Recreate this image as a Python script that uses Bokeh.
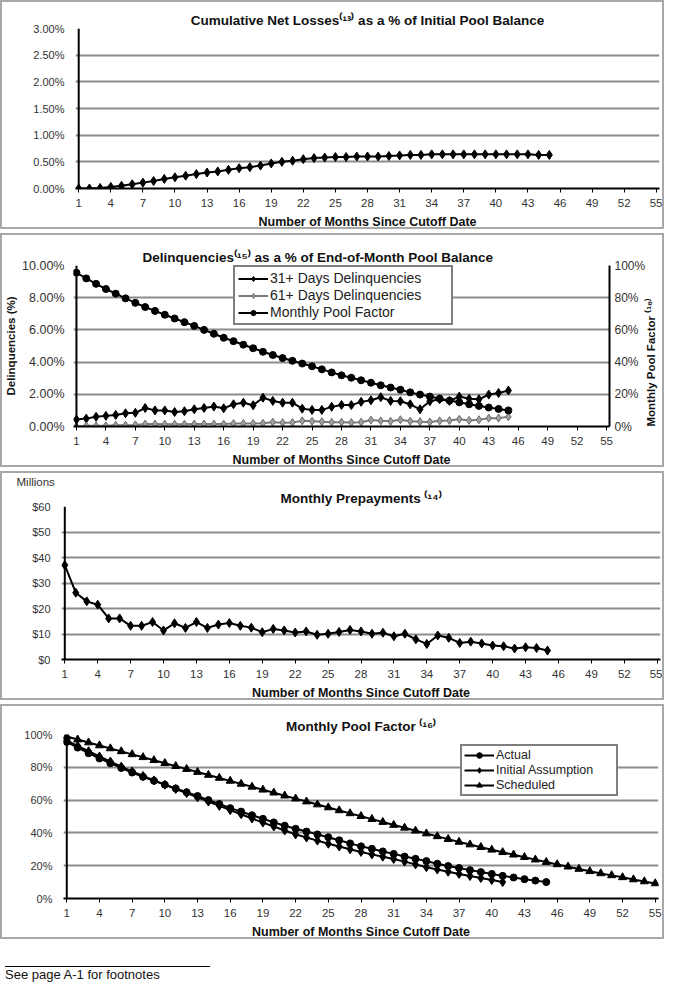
import math
from bokeh.plotting import figure
from bokeh.models import (Range1d, LinearAxis, FixedTicker, PrintfTickFormatter, Span,
                          Legend, LegendItem, Div, Title)
from bokeh.layouts import column
from bokeh.embed import file_html
from bokeh.resources import INLINE

FONT = "Liberation Sans"

# ---------------- data ----------------
months45 = list(range(1, 46))
months41 = list(range(1, 42))
months55 = list(range(1, 56))
x_ticks = list(range(1, 56, 3))

cum_net_losses = [0.00, 0.00, 0.01, 0.03, 0.05, 0.08, 0.11, 0.14, 0.18, 0.21,
                  0.24, 0.27, 0.30, 0.32, 0.35, 0.38, 0.40, 0.43, 0.47, 0.50,
                  0.52, 0.55, 0.57, 0.58, 0.59, 0.59, 0.60, 0.60, 0.60, 0.61,
                  0.62, 0.63, 0.63, 0.64, 0.64, 0.64, 0.64, 0.64, 0.64, 0.64,
                  0.64, 0.64, 0.64, 0.63, 0.63]
loss_ticks = [0.0, 0.5, 1.0, 1.5, 2.0, 2.5, 3.0]

delinq_31 = [0.43, 0.49, 0.60, 0.66, 0.72, 0.82, 0.85, 1.15, 1.00, 1.00,
             0.90, 0.95, 1.07, 1.15, 1.24, 1.13, 1.38, 1.48, 1.32, 1.79,
             1.59, 1.48, 1.48, 1.11, 1.03, 1.03, 1.22, 1.34, 1.33, 1.53,
             1.63, 1.82, 1.59, 1.57, 1.38, 1.07, 1.57, 1.69, 1.59, 1.86,
             1.72, 1.69, 1.98, 2.08, 2.23]
delinq_61 = [0.00, 0.04, 0.04, 0.04, 0.08, 0.08, 0.10, 0.15, 0.15, 0.14,
             0.14, 0.14, 0.15, 0.15, 0.15, 0.15, 0.18, 0.19, 0.19, 0.20,
             0.27, 0.24, 0.25, 0.35, 0.33, 0.30, 0.27, 0.27, 0.25, 0.27,
             0.40, 0.35, 0.32, 0.42, 0.33, 0.30, 0.28, 0.35, 0.37, 0.45,
             0.38, 0.42, 0.52, 0.52, 0.60]
delinq_ticks = [0, 2, 4, 6, 8, 10]

pool_factor = [95.5, 92.0, 88.6, 85.4, 82.5, 79.6, 76.8, 74.2, 71.8, 69.4,
               67.1, 64.8, 62.5, 60.0, 57.6, 55.1, 53.0, 50.8, 48.6, 46.4,
               44.4, 42.5, 40.8, 39.1, 37.4, 35.5, 33.6, 31.8, 30.3, 28.7,
               27.2, 25.6, 24.2, 22.8, 21.2, 19.8, 18.6, 17.3, 16.1, 15.0,
               13.8, 12.8, 11.8, 10.9, 10.0]
pct_ticks = [0, 20, 40, 60, 80, 100]

prepayments = [37.0, 26.2, 22.8, 21.5, 16.1, 16.1, 13.2, 13.2, 14.7, 11.4,
               14.2, 12.4, 14.7, 12.4, 13.7, 14.3, 13.2, 12.5, 10.7, 12.0,
               11.4, 10.6, 11.0, 9.7, 10.1, 10.8, 11.6, 11.0, 10.1, 10.5,
               9.1, 10.1, 7.9, 6.1, 9.4, 8.5, 6.5, 7.0, 6.3, 5.5,
               5.2, 4.3, 4.8, 4.5, 3.5]
prepay_ticks = [0, 10, 20, 30, 40, 50, 60]

initial_assumption = [96.3, 93.0, 89.8, 86.6, 83.5, 80.4, 77.5, 74.7, 72.0, 69.4,
                      66.8, 64.3, 61.7, 59.1, 56.5, 53.9, 51.4, 48.8, 46.3, 43.9,
                      41.5, 39.1, 37.2, 35.3, 33.4, 31.7, 30.0, 28.4, 26.9, 25.5,
                      24.1, 22.5, 20.8, 19.1, 17.7, 16.3, 15.0, 13.7, 12.5, 11.3,
                      10.0]
scheduled = [98.8, 96.9, 95.1, 93.3, 91.5, 89.7, 87.9, 86.1, 84.3, 82.5,
             80.7, 78.9, 77.1, 75.3, 73.5, 71.7, 69.9, 68.1, 66.3, 64.5,
             62.7, 60.9, 59.1, 57.3, 55.5, 53.7, 51.9, 50.2, 48.4, 46.6,
             44.8, 43.1, 41.3, 39.6, 37.9, 36.2, 34.5, 32.9, 31.3, 29.7,
             28.2, 26.7, 25.2, 23.7, 22.2, 20.8, 19.4, 18.0, 16.6, 15.3,
             14.1, 12.9, 11.6, 10.4, 9.2]

X_LABEL = "Number of Months Since Cutoff Date"
W = 664


def style_title(t, size="13.5px", bold=True):
    t.text_font = FONT
    t.text_font_size = size
    t.text_font_style = "bold" if bold else "normal"
    t.text_color = "#111111"


def make_fig(height, left, right, top, bottom, title, y_end, y_ticks, y_fmt,
             tick_size="11px"):
    p = figure(width=W, height=height, output_backend="svg", toolbar_location=None,
               x_range=Range1d(0.7, 55.3), y_range=Range1d(0, y_end),
               min_border_left=left, min_border_right=right,
               min_border_top=top, min_border_bottom=bottom,
               title=title, styles={"border": "2px solid #a8a8a8"})
    if "frame_align" in p.properties():
        p.frame_align = False
    p.title.align = "center"
    style_title(p.title)
    p.title.standoff = 2
    p.outline_line_color = None
    p.background_fill_color = "white"
    p.border_fill_color = "white"
    p.xgrid.grid_line_color = None
    p.ygrid.grid_line_color = "#8c8c8c"
    p.ygrid.grid_line_width = 2
    p.ygrid.ticker = FixedTicker(ticks=y_ticks)

    xa = p.xaxis[0]
    xa.ticker = FixedTicker(ticks=x_ticks)
    xa.axis_line_color = "black"
    xa.axis_line_width = 2
    xa.major_tick_line_color = "black"
    xa.major_tick_out = 4
    xa.major_tick_in = 0
    xa.minor_tick_line_color = None
    xa.major_label_text_font = FONT
    xa.major_label_text_font_size = "11.5px"
    xa.major_label_text_color = "#333333"
    xa.major_label_standoff = 6
    xa.axis_label = X_LABEL
    xa.axis_label_text_font = FONT
    xa.axis_label_text_font_size = "12.5px"
    xa.axis_label_text_font_style = "bold"
    xa.axis_label_text_color = "#111111"
    xa.axis_label_standoff = 5

    ya = p.yaxis[0]
    ya.ticker = FixedTicker(ticks=y_ticks)
    ya.formatter = PrintfTickFormatter(format=y_fmt)
    ya.axis_line_color = None
    ya.major_tick_line_color = None
    ya.minor_tick_line_color = None
    ya.major_label_text_font = FONT
    ya.major_label_text_font_size = tick_size
    ya.major_label_text_color = "#333333"
    ya.major_label_standoff = 5

    p.add_layout(Span(location=1, dimension="height", line_color="black", line_width=2))
    return p


def style_legend(lg, font_size, row_h, pad):
    lg.border_line_color = "black"
    lg.border_line_width = 2
    lg.background_fill_color = "white"
    lg.background_fill_alpha = 1
    lg.label_text_font = FONT
    lg.label_text_font_size = font_size
    lg.label_text_color = "#222222"
    lg.label_height = row_h
    lg.glyph_height = row_h
    lg.glyph_width = 30
    lg.label_standoff = 2
    lg.padding = pad
    lg.spacing = 1
    lg.margin = 0


# ---------------- panel 1 ----------------
p1 = make_fig(229, 73, 7, 26, 40,
              "Cumulative Net Losses\u207d\u00b9\u00b3\u207e as a % of Initial Pool Balance",
              3.0, loss_ticks, "%.2f%%")
p1.line(months45, cum_net_losses, line_color="black", line_width=2)
p1.scatter(months45, cum_net_losses, marker="diamond", size=9, color="black")

# ---------------- panel 2 ----------------
p2 = make_fig(234, 69, 44, 30, 42,
              "Delinquencies\u207d\u00b9\u2075\u207e as a % of End-of-Month Pool Balance",
              10, delinq_ticks, "%.2f%%", tick_size="12.5px")
p2.title.align = "left"
p2.title.offset = 69
p2.yaxis[0].major_label_standoff = 3
p2.yaxis[0].axis_label = "Delinquencies (%)"
p2.yaxis[0].axis_label_text_font = FONT
p2.yaxis[0].axis_label_text_font_size = "11.5px"
p2.yaxis[0].axis_label_text_font_style = "bold"
p2.yaxis[0].axis_label_text_color = "#111111"
p2.yaxis[0].axis_label_standoff = 2
p2.extra_y_ranges = {"pf": Range1d(0, 100)}
ra = LinearAxis(y_range_name="pf", ticker=FixedTicker(ticks=pct_ticks),
                formatter=PrintfTickFormatter(format="%d%%"),
                axis_label="Monthly Pool Factor \u207d\u00b9\u2076\u207e")
ra.axis_line_color = "black"
ra.axis_line_width = 2
ra.major_tick_line_color = None
ra.minor_tick_line_color = None
ra.major_tick_out = 0
ra.major_tick_in = 0
ra.major_label_text_font = FONT
ra.major_label_text_font_size = "12px"
ra.major_label_text_color = "#333333"
ra.major_label_standoff = 5
ra.axis_label_text_font = FONT
ra.axis_label_text_font_size = "11.5px"
ra.axis_label_text_font_style = "bold"
ra.axis_label_text_color = "#111111"
ra.axis_label_standoff = 3
if "axis_label_orientation" in ra.properties():
    try:
        ra.axis_label_orientation = math.pi / 2
        if "axis_label_align" in ra.properties():
            ra.axis_label_align = "start"
    except Exception:
        pass
p2.add_layout(ra, "right")

l31 = p2.line(months45, delinq_31, line_color="black", line_width=2)
s31 = p2.scatter(months45, delinq_31, marker="diamond", size=9, color="black")
l61 = p2.line(months45, delinq_61, line_color="#7a7a7a", line_width=2)
s61 = p2.scatter(months45, delinq_61, marker="diamond", size=8, fill_color="#a0a0a0",
                 line_color="#6a6a6a")
lpf = p2.line(months45, pool_factor, line_color="black", line_width=2, y_range_name="pf")
spf = p2.scatter(months45, pool_factor, marker="circle", size=7, color="black",
                 y_range_name="pf")
lg2 = Legend(items=[LegendItem(label="31+ Days Delinquencies", renderers=[l31, s31]),
                    LegendItem(label="61+ Days Delinquencies", renderers=[l61, s61]),
                    LegendItem(label="Monthly Pool Factor", renderers=[lpf, spf])],
             location=(160, 101))
style_legend(lg2, "14px", 13, 3)
lg2.label_width = 178
p2.add_layout(lg2)

# ---------------- panel 3 ----------------
p3 = make_fig(229, 59, 6, 33, 41, "Millions", 60, prepay_ticks, "$%d")
p3.title.align = "left"
p3.title.offset = -45
style_title(p3.title, size="11.5px", bold=False)
p3.title.text_color = "#333333"
p3.title.standoff = 0
t3 = Title(text="Monthly Prepayments \u207d\u00b9\u2074\u207e", align="center", standoff=2)
style_title(t3)
p3.add_layout(t3, "above")
p3.line(months45, prepayments, line_color="black", line_width=2)
p3.scatter(months45, prepayments, marker="diamond", size=9, color="black")

# ---------------- panel 4 ----------------
p4 = make_fig(235, 61, 8, 28, 42, "Monthly Pool Factor \u207d\u00b9\u2076\u207e",
              100, pct_ticks, "%d%%")
la = p4.line(months45, pool_factor, line_color="black", line_width=2)
sa = p4.scatter(months45, pool_factor, marker="circle", size=7, color="black")
li = p4.line(months41, initial_assumption, line_color="black", line_width=2)
si = p4.scatter(months41, initial_assumption, marker="diamond", size=9, color="black")
ls = p4.line(months55, scheduled, line_color="black", line_width=2)
ss = p4.scatter(months55, scheduled, marker="triangle", size=8, color="black")
lg4 = Legend(items=[LegendItem(label="Actual", renderers=[la, sa]),
                    LegendItem(label="Initial Assumption", renderers=[li, si]),
                    LegendItem(label="Scheduled", renderers=[ls, ss])],
             location=(397, 102))
style_legend(lg4, "12.5px", 14, 2)
lg4.label_width = 118
p4.add_layout(lg4)

foot = Div(text='<div style="width:205px;border-top:1px solid #000;margin-top:18px;'
                'padding-top:0px;font-family:\'Liberation Sans\';font-size:13px;'
                'line-height:15px;color:#111">See page A-1 for footnotes</div>',
           width=W, height=36)

layout = column(p1, p2, p3, p4, foot, spacing=4)
open("out.html", "w").write(file_html(layout, INLINE))
